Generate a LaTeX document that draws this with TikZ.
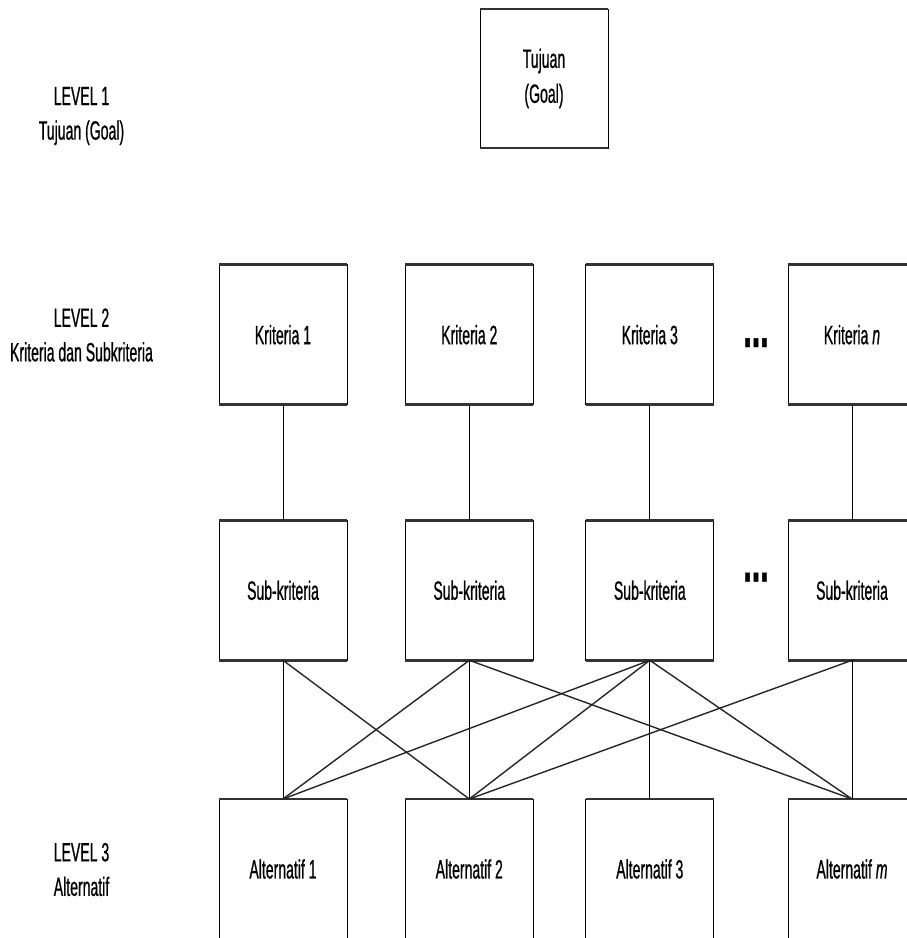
\documentclass[tikz,border=0pt]{standalone}
\usepackage{fontspec}
\setmainfont{Liberation Sans}[FakeStretch=0.53, FakeBold=0.7]
\begin{document}
\begin{tikzpicture}[x=1pt,y=-1pt,
  lbl/.style={font=\fontsize{26.5}{34.5}\selectfont, align=center, inner sep=0pt},
  box/.style={draw, line width=1pt, minimum width=128pt, minimum height=140pt,
              inner sep=0pt, outer sep=0pt, align=center,
              font=\fontsize{26.5}{35}\selectfont},
  rim/.style={line width=2.5pt, draw=black!80},
  link/.style={line width=1pt},
  cross/.style={line width=1.4pt, draw=black!85},
  more/.style={font=\fontsize{58}{58}\selectfont\bfseries, inner sep=0pt, anchor=base}]
\useasboundingbox (0,0) rectangle (907,938);

% level captions
\node[lbl] (lv1) at (81.5,116) {LEVEL 1\\Tujuan (Goal)};
\node[lbl] (lv2) at (81.5,335) {LEVEL 2\\Kriteria dan Subkriteria};
\node[lbl] (lv3) at (81.5,869.5) {LEVEL 3\\Alternatif};

% goal
\node[box, minimum height=139pt] (g) at (544,78.5) {Tujuan\\(Goal)};

% criteria
\node[box] (k1) at (283,334.7) {Kriteria 1};
\node[box] (k2) at (469.3,334.7) {Kriteria 2};
\node[box] (k3) at (649.8,334.7) {Kriteria 3};
\node[box] (k4) at (852,334.7) {Kriteria \textit{n}};

% sub-criteria
\node[box] (s1) at (283,590.3) {Sub-kriteria};
\node[box] (s2) at (469.3,590.3) {Sub-kriteria};
\node[box] (s3) at (649.8,590.3) {Sub-kriteria};
\node[box] (s4) at (852,590.3) {Sub-kriteria};

% alternatives
\node[box] (a1) at (283,869) {Alternatif 1};
\node[box] (a2) at (469.3,869) {Alternatif 2};
\node[box] (a3) at (649.8,869) {Alternatif 3};
\node[box] (a4) at (852,869) {Alternatif \textit{m}};

% ellipses between columns 3 and 4
\node[more] (dk) at (756,347) {...};
\node[more] (ds) at (756,581.5) {...};

% heavier top and bottom edges of the boxes
\foreach \n in {g,k1,k2,k3,k4,s1,s2,s3,s4,a1,a2,a3,a4}{
  \draw[rim] (\n.north west) -- (\n.north east);
  \draw[rim] (\n.south west) -- (\n.south east);
}

% criteria to sub-criteria
\foreach \i in {1,2,3,4}{
  \draw[link] (k\i.south) -- (s\i.north);
}

% sub-criteria to alternatives
\draw[link] (s1.south) -- (a1.north);
\draw[link] (s2.south) -- (a2.north);
\draw[link] (s3.south) -- (a3.north);
\draw[link] (s4.south) -- (a4.north);
\draw[cross] (s1.south) -- (a2.north);
\draw[cross] (s2.south) -- (a1.north);
\draw[cross] (s2.south) -- (a4.north);
\draw[cross] (s3.south) -- (a1.north);
\draw[cross] (s3.south) -- (a2.north);
\draw[cross] (s3.south) -- (a4.north);
\draw[cross] (s4.south) -- (a2.north);
\end{tikzpicture}
\end{document}
